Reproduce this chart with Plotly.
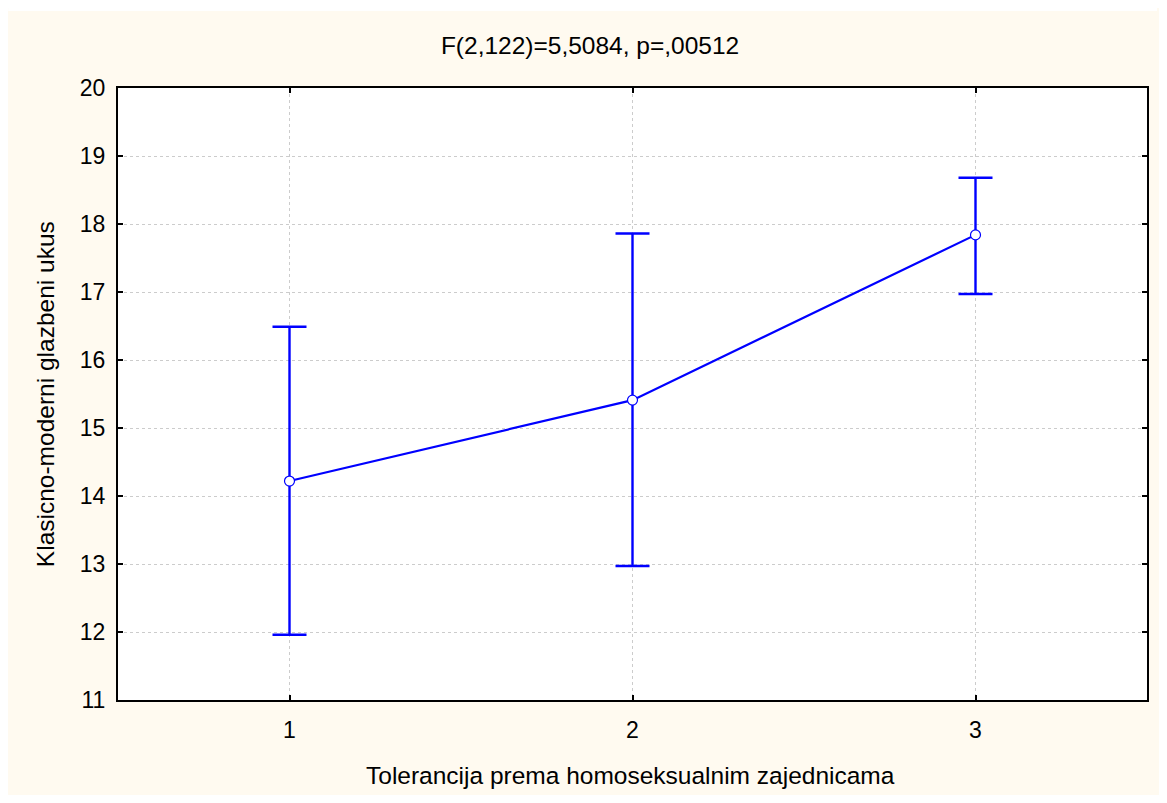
import plotly.graph_objects as go

categories = [1, 2, 3]
means = [14.22, 15.41, 17.84]
upper = [16.49, 17.86, 18.68]
lower = [11.96, 12.97, 16.97]
x_ticks = [1, 2, 3]
y_ticks = [11, 12, 13, 14, 15, 16, 17, 18, 19, 20]

err_plus = [u - m for u, m in zip(upper, means)]
err_minus = [m - l for m, l in zip(means, lower)]

blue = "#0000FF"
cream = "#FFFAF0"
font = "Liberation Sans, Arial, sans-serif"
FS = 23
FT = 24.5

# figure sits at page offset (8, 8) due to body margin
W, H = 1151, 787
L, T, R, B = 110, 80, 10, 95
PW, PH = W - L - R, H - T - B

fig = go.Figure()
fig.add_trace(go.Scatter(
    x=categories, y=means, mode="lines+markers",
    line=dict(color=blue, width=2.2),
    marker=dict(symbol="circle", size=10, color="white", line=dict(color=blue, width=1.2)),
    error_y=dict(type="data", symmetric=False, array=err_plus, arrayminus=err_minus,
                 color=blue, thickness=2.4, width=17),
    showlegend=False,
))

axis_common = dict(
    showline=True, linecolor="black", linewidth=2, mirror="ticks",
    ticks="inside", ticklen=5, tickwidth=2, tickcolor="black",
    showgrid=True, gridcolor="#CCCCCC", gridwidth=1, griddash="3px,3px",
    zeroline=False, tickfont=dict(family=font, size=FS, color="black"),
)

fig.update_xaxes(range=[0.5, 3.5], tickvals=x_ticks, ticktext=[str(t) for t in x_ticks],
                 ticklabelstandoff=8, **axis_common)
fig.update_yaxes(range=[11, 20], tickvals=y_ticks, ticktext=[str(t) for t in y_ticks],
                 ticklabelstandoff=6, **axis_common)

fig.update_layout(
    width=W, height=H,
    margin=dict(l=L, r=R, t=T, b=B),
    paper_bgcolor=cream, plot_bgcolor="white",
    title=dict(text="F(2,122)=5,5084, p=,00512", x=(583 - L) / PW, xanchor="center", xref="paper",
               y=1 - 37 / H, yanchor="middle", yref="container",
               font=dict(family=font, size=FT, color="black")),
    font=dict(family=font, color="black"),
    annotations=[
        dict(text="Tolerancija prema homoseksualnim zajednicama", xref="paper", yref="paper",
             x=(623 - L) / PW, y=-(767 - (H - B)) / PH, xanchor="center", yanchor="middle",
             showarrow=False, font=dict(family=font, size=FT, color="black")),
        dict(text="Klasicno-moderni glazbeni ukus", xref="paper", yref="paper",
             x=(37 - L) / PW, y=0.5, xanchor="center", yanchor="middle", textangle=-90,
             showarrow=False, font=dict(family=font, size=FT, color="black")),
    ],
    shapes=[
        dict(type="rect", xref="paper", yref="paper", layer="below",
             x0=-L / PW, x1=1 + R / PW, y0=1 + (T - 3) / PH, y1=1 + T / PH,
             fillcolor="white", line=dict(width=0)),
    ],
)

fig.write_html("out.html")
